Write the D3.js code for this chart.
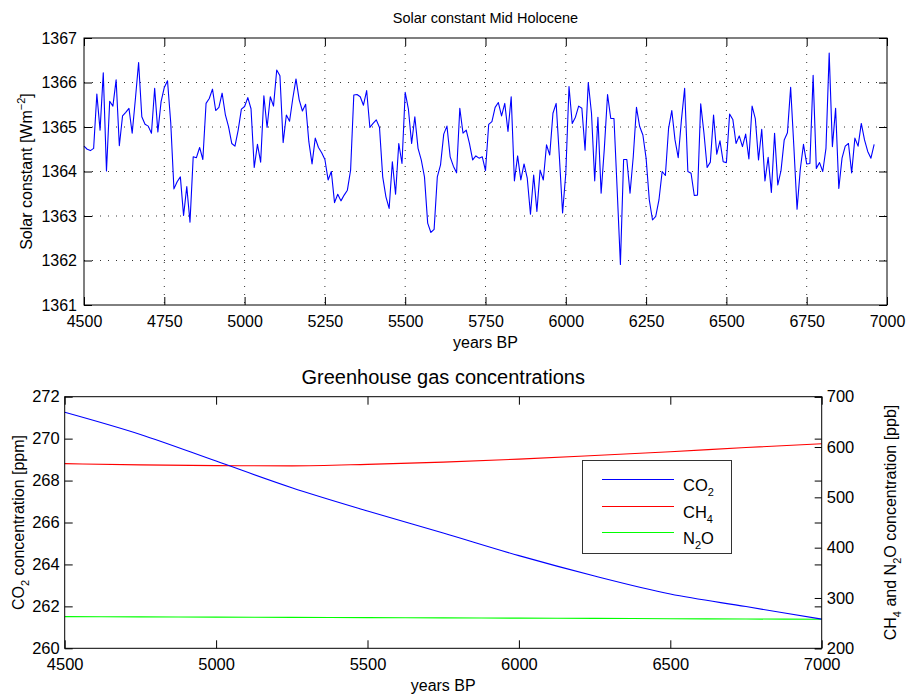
<!DOCTYPE html>
<html>
<head>
<meta charset="utf-8">
<script src="https://cdn.jsdelivr.net/npm/d3@7"></script>
<style>
  body { margin: 0; background: #fff; }
  svg { display: block; font-family: "Liberation Sans", Arial, Helvetica, sans-serif; }
</style>
</head>
<body>
<svg id="chart" width="911" height="695"></svg>
<script>
// ---------- DATA ----------
const solarStartYear = 4500;
const solarStepYears = 10;
const solarConstant = [
  1364.57,1364.50,1364.47,1364.52,1365.74,1364.93,1366.22,1364.01,1365.58,1365.47,
  1366.06,1364.58,1365.25,1365.33,1365.42,1364.86,1365.63,1366.45,1365.23,1365.06,
  1365.02,1364.86,1365.87,1364.89,1365.57,1365.89,1366.04,1365.10,1363.61,1363.77,
  1363.88,1363.01,1363.66,1362.86,1364.33,1364.31,1364.54,1364.27,1365.53,1365.64,
  1365.85,1365.37,1365.44,1365.76,1365.28,1365.01,1364.63,1364.57,1364.93,1365.40,
  1365.46,1365.66,1365.41,1364.09,1364.61,1364.21,1365.70,1364.99,1365.68,1365.47,
  1366.28,1366.15,1364.65,1365.27,1365.13,1365.64,1366.08,1365.61,1365.36,1365.51,
  1364.67,1364.17,1364.75,1364.54,1364.42,1364.27,1363.81,1364.00,1363.30,1363.49,
  1363.34,1363.47,1363.58,1364.03,1365.72,1365.73,1365.68,1365.49,1365.82,1364.99,
  1365.08,1365.16,1364.99,1363.88,1363.43,1363.17,1364.22,1363.49,1364.63,1364.18,
  1365.78,1365.40,1364.63,1365.23,1364.52,1364.26,1363.88,1362.84,1362.63,1362.70,
  1363.88,1364.15,1364.84,1365.02,1364.33,1364.12,1363.97,1365.42,1364.86,1364.93,
  1364.63,1364.26,1364.35,1364.30,1364.33,1364.02,1365.06,1365.12,1365.44,1365.55,
  1365.25,1365.53,1364.90,1365.68,1363.79,1364.35,1363.81,1364.17,1363.85,1363.04,
  1363.92,1363.10,1364.03,1363.81,1364.60,1364.37,1365.31,1365.53,1364.33,1363.07,
  1363.96,1365.91,1365.08,1365.22,1365.47,1365.42,1364.48,1366.00,1365.31,1363.79,
  1365.22,1363.51,1364.52,1365.73,1365.19,1365.19,1363.58,1361.91,1364.27,1364.27,
  1363.51,1364.33,1365.44,1365.01,1364.82,1364.30,1363.36,1362.91,1362.99,1363.36,
  1364.00,1363.91,1364.97,1365.37,1364.71,1364.31,1365.16,1365.87,1364.00,1363.96,
  1363.46,1363.47,1365.52,1364.87,1364.09,1364.21,1365.27,1364.39,1364.69,1364.22,
  1364.20,1365.29,1365.17,1364.63,1364.80,1364.56,1364.84,1364.28,1365.47,1365.19,
  1364.26,1364.95,1363.79,1364.32,1363.53,1364.86,1363.70,1364.02,1364.71,1364.87,
  1365.89,1364.56,1363.15,1364.05,1364.61,1364.17,1364.18,1366.16,1364.07,1364.20,
  1364.00,1364.52,1366.66,1364.56,1365.42,1363.62,1364.30,1364.57,1364.63,1363.97,
  1364.75,1364.57,1365.08,1364.71,1364.45,1364.30,1364.61
];
const solarXTicks = [4500,4750,5000,5250,5500,5750,6000,6250,6500,6750,7000];
const solarYTicks = [1361,1362,1363,1364,1365,1366,1367];

const ghgYears = [4500,4750,5000,5250,5500,5750,6000,6250,6500,6750,7000];
const co2 = [271.26,270.20,268.93,267.66,266.55,265.50,264.42,263.45,262.59,261.99,261.39];
const ch4 = [567.0,564.5,563.0,562.5,565.5,570.0,576.0,583.0,590.5,599.0,606.5];
const n2o = [262.9,262.4,262.0,261.5,261.0,260.4,259.9,259.4,258.8,258.2,257.7];
const ghgXTicks = [4500,5000,5500,6000,6500,7000];
const co2Ticks = [260,262,264,266,268,270,272];
const ppbTicks = [200,300,400,500,600,700];
const legendItems = [
  {base:"CO", sub:"2", tail:"", color:"#0000ff"},
  {base:"CH", sub:"4", tail:"", color:"#ff0000"},
  {base:"N", sub:"2", tail:"O", color:"#00ff00"}
];

// ---------- DRAW ----------
const svg = d3.select("#chart");
const TICK = 8;

// ===== Top panel =====
const t = {l:84, r:887, t:38, b:305};
const x1 = d3.scaleLinear().domain([4500,7000]).range([t.l, t.r]);
const y1 = d3.scaleLinear().domain([1361,1367]).range([t.b, t.t]);
const g1 = svg.append("g");

// grid
g1.append("g").selectAll("line.vg").data(solarXTicks.slice(1,-1)).join("line")
  .attr("x1", d=>x1(d)).attr("x2", d=>x1(d)).attr("y1", t.t).attr("y2", t.b)
  .attr("stroke","#333").attr("stroke-width",1).attr("stroke-dasharray","1,7");
g1.append("g").selectAll("line.hg").data(solarYTicks.slice(1,-1)).join("line")
  .attr("x1", t.l).attr("x2", t.r).attr("y1", d=>y1(d)).attr("y2", d=>y1(d))
  .attr("stroke","#333").attr("stroke-width",1).attr("stroke-dasharray","1,7");

// axes
function styleAxis(sel, fs) {
  sel.select(".domain").remove();
  sel.selectAll(".tick line").attr("stroke","#000");
  sel.selectAll(".tick text").attr("font-size", fs).attr("fill","#000")
     .attr("font-family","Liberation Sans, Arial, sans-serif");
}
g1.append("g").attr("transform",`translate(0,${t.b})`)
  .call(d3.axisBottom(x1).tickValues(solarXTicks).tickSize(-TICK).tickPadding(11).tickFormat(d3.format("d")))
  .call(s=>styleAxis(s,16));
g1.append("g").attr("transform",`translate(0,${t.t})`)
  .call(d3.axisTop(x1).tickValues(solarXTicks).tickSize(-TICK).tickFormat(""))
  .call(s=>styleAxis(s,16));
g1.append("g").attr("transform",`translate(${t.l},0)`)
  .call(d3.axisLeft(y1).tickValues(solarYTicks).tickSize(-TICK).tickPadding(7).tickFormat(d3.format("d")))
  .call(s=>styleAxis(s,16));
g1.append("g").attr("transform",`translate(${t.r},0)`)
  .call(d3.axisRight(y1).tickValues(solarYTicks).tickSize(-TICK).tickFormat(""))
  .call(s=>styleAxis(s,16));

// line
const solarLine = d3.line()
  .x((d,i)=>x1(solarStartYear + i*solarStepYears))
  .y(d=>y1(d));
g1.append("path").datum(solarConstant).attr("d", solarLine)
  .attr("fill","none").attr("stroke","#0000ff").attr("stroke-width",1.1).attr("stroke-linejoin","round");

g1.append("rect").attr("x",t.l).attr("y",t.t).attr("width",t.r-t.l).attr("height",t.b-t.t)
  .attr("fill","none").attr("stroke","#000").attr("stroke-width",1);

// texts
g1.append("text").attr("x",(t.l+t.r)/2).attr("y",23).attr("text-anchor","middle")
  .attr("font-size",14.5).text("Solar constant Mid Holocene");
g1.append("text").attr("x",(t.l+t.r)/2).attr("y",348).attr("text-anchor","middle")
  .attr("font-size",16).text("years BP");
const yl1 = g1.append("text").attr("transform",`translate(32,${(t.t+t.b)/2}) rotate(-90)`)
  .attr("text-anchor","middle").attr("font-size",16);
yl1.append("tspan").text("Solar constant [Wm");
yl1.append("tspan").attr("font-size",11).attr("dy",-7).text("−2");
yl1.append("tspan").attr("dy",7).text("]");

// ===== Bottom panel =====
const b = {l:64.7, r:821.7, t:396.7, b:648.3};
const x2 = d3.scaleLinear().domain([4500,7000]).range([b.l, b.r]);
const yL = d3.scaleLinear().domain([260,272]).range([b.b, b.t]);
const yR = d3.scaleLinear().domain([200,700]).range([b.b, b.t]);
const g2 = svg.append("g");

g2.append("g").attr("transform",`translate(0,${b.b})`)
  .call(d3.axisBottom(x2).tickValues(ghgXTicks).tickSize(-TICK).tickPadding(10).tickFormat(d3.format("d")))
  .call(s=>styleAxis(s,16.5));
g2.append("g").attr("transform",`translate(0,${b.t})`)
  .call(d3.axisTop(x2).tickValues(ghgXTicks).tickSize(-TICK).tickFormat(""))
  .call(s=>styleAxis(s,16.5));
g2.append("g").attr("transform",`translate(${b.l},0)`)
  .call(d3.axisLeft(yL).tickValues(co2Ticks).tickSize(-TICK).tickPadding(5).tickFormat(d3.format("d")))
  .call(s=>styleAxis(s,16.5));
// mirrored left ticks on right edge
g2.append("g").attr("transform",`translate(${b.r},0)`)
  .call(d3.axisRight(yL).tickValues(co2Ticks).tickSize(-7).tickFormat(""))
  .call(s=>styleAxis(s,16.5));
g2.append("g").attr("transform",`translate(${b.r},0)`)
  .call(d3.axisRight(yR).tickValues(ppbTicks).tickSize(-7).tickPadding(5).tickFormat(d3.format("d")))
  .call(s=>styleAxis(s,16.5));

const lineL = d3.line().x((d,i)=>x2(ghgYears[i])).y(d=>yL(d)).curve(d3.curveMonotoneX);
const lineR = d3.line().x((d,i)=>x2(ghgYears[i])).y(d=>yR(d)).curve(d3.curveMonotoneX);
g2.append("path").datum(n2o).attr("d", lineR).attr("fill","none").attr("stroke","#00ff00").attr("stroke-width",1.1);
g2.append("path").datum(ch4).attr("d", lineR).attr("fill","none").attr("stroke","#ff0000").attr("stroke-width",1.1);
g2.append("path").datum(co2).attr("d", lineL).attr("fill","none").attr("stroke","#0000ff").attr("stroke-width",1.1);

g2.append("rect").attr("x",b.l).attr("y",b.t).attr("width",b.r-b.l).attr("height",b.b-b.t)
  .attr("fill","none").attr("stroke","#000").attr("stroke-width",1);

// titles
g2.append("text").attr("x",(b.l+b.r)/2).attr("y",384).attr("text-anchor","middle")
  .attr("font-size",20).text("Greenhouse gas concentrations");
g2.append("text").attr("x",(b.l+b.r)/2).attr("y",691).attr("text-anchor","middle")
  .attr("font-size",16).text("years BP");
const yl2 = g2.append("text").attr("transform",`translate(24,${(b.t+b.b)/2}) rotate(-90)`)
  .attr("text-anchor","middle").attr("font-size",16);
yl2.append("tspan").text("CO");
yl2.append("tspan").attr("font-size",11).attr("dy",5).text("2");
yl2.append("tspan").attr("dy",-5).text(" concentration [ppm]");
const yr2 = g2.append("text").attr("transform",`translate(896,${(b.t+b.b)/2}) rotate(-90)`)
  .attr("text-anchor","middle").attr("font-size",16);
yr2.append("tspan").text("CH");
yr2.append("tspan").attr("font-size",11).attr("dy",5).text("4");
yr2.append("tspan").attr("dy",-5).text(" and N");
yr2.append("tspan").attr("font-size",11).attr("dy",5).text("2");
yr2.append("tspan").attr("dy",-5).text("O concentration [ppb]");

// legend
const lg = g2.append("g");
lg.append("rect").attr("x",582.5).attr("y",460.5).attr("width",149).attr("height",93)
  .attr("fill","#fff").attr("stroke","#333").attr("stroke-width",1);
const rows = [479.5, 506.5, 532.5];
legendItems.forEach((it,i)=>{
  lg.append("line").attr("x1",602).attr("x2",674).attr("y1",rows[i]).attr("y2",rows[i])
    .attr("stroke",it.color).attr("stroke-width",1);
  const tx = lg.append("text").attr("x",683).attr("y",rows[i]+11).attr("font-size",16.5);
  tx.append("tspan").text(it.base);
  tx.append("tspan").attr("font-size",11).attr("dy",5).text(it.sub);
  if (it.tail) tx.append("tspan").attr("dy",-5).text(it.tail);
});
</script>
</body>
</html>
